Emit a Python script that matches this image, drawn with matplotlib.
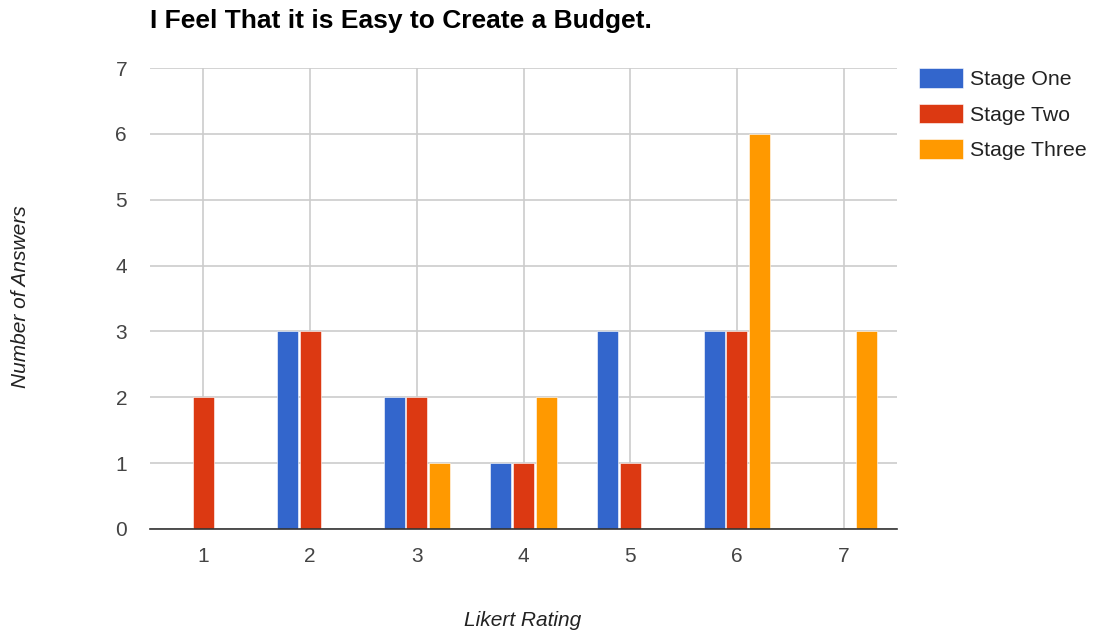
import matplotlib
matplotlib.use("Agg")
import matplotlib.pyplot as plt
import numpy as np

# Likert ratings and the number of answers per stage
ratings = ["1", "2", "3", "4", "5", "6", "7"]
stage_one = [0, 3, 2, 1, 3, 3, 0]
stage_two = [2, 3, 2, 1, 1, 3, 0]
stage_three = [0, 0, 1, 2, 0, 6, 3]

series = [("Stage One", stage_one, "#3366CC"),
          ("Stage Two", stage_two, "#DC3912"),
          ("Stage Three", stage_three, "#FF9900")]

plt.rcParams["font.family"] = ["Liberation Sans", "DejaVu Sans"]

W, H = 1094, 633
fig = plt.figure(figsize=(W / 100, H / 100), dpi=100)
ax = fig.add_axes([150 / W, 1 - 529 / H, 747 / W, 461 / H])

x = np.arange(len(ratings))
pitch = 0.211
width = 0.197
for i, (name, vals, col) in enumerate(series):
    ax.bar(x + (i - 1) * pitch, vals, width=width, color=col, label=name,
           edgecolor="white", linewidth=0.4, zorder=3)

ax.set_xlim(-0.5, len(ratings) - 0.5)
ax.set_ylim(0, 7)
ax.set_xticks(x)
ax.set_xticklabels(ratings)
ax.set_yticks(range(0, 8))

ax.grid(True, color="#cccccc", linewidth=1.2, zorder=0)
for s in ["top", "right", "left"]:
    ax.spines[s].set_visible(False)
ax.spines["bottom"].set_color("#333333")
ax.spines["bottom"].set_linewidth(1.2)
ax.spines["bottom"].set_zorder(4)
ax.tick_params(length=0, labelsize=15, colors="#444444")
ax.tick_params(axis="x", pad=13)
ax.tick_params(axis="y", pad=16.5)

fig.text(523 / W, 1 - 621 / H, "Likert Rating", fontsize=15, style="italic",
         color="#222222", ha="center", va="center")
fig.text(21 / W, 1 - 297 / H, "Number of Answers", fontsize=15, style="italic",
         color="#222222", ha="center", va="center", rotation=90)

fig.text(150 / W, 1 - 21 / H, "I Feel That it is Easy to Create a Budget.",
         fontsize=19, fontweight="bold", color="black", ha="left", va="center")

leg = ax.legend(loc="upper left", bbox_to_anchor=(919 / W, 1 - 68 / H),
                bbox_transform=fig.transFigure, frameon=False,
                fontsize=15.3, handlelength=2.05, handleheight=1.05,
                handletextpad=0.37, labelspacing=0.68, borderaxespad=0,
                borderpad=0)
for t in leg.get_texts():
    t.set_color("#222222")

fig.savefig("out.png", dpi=100)
